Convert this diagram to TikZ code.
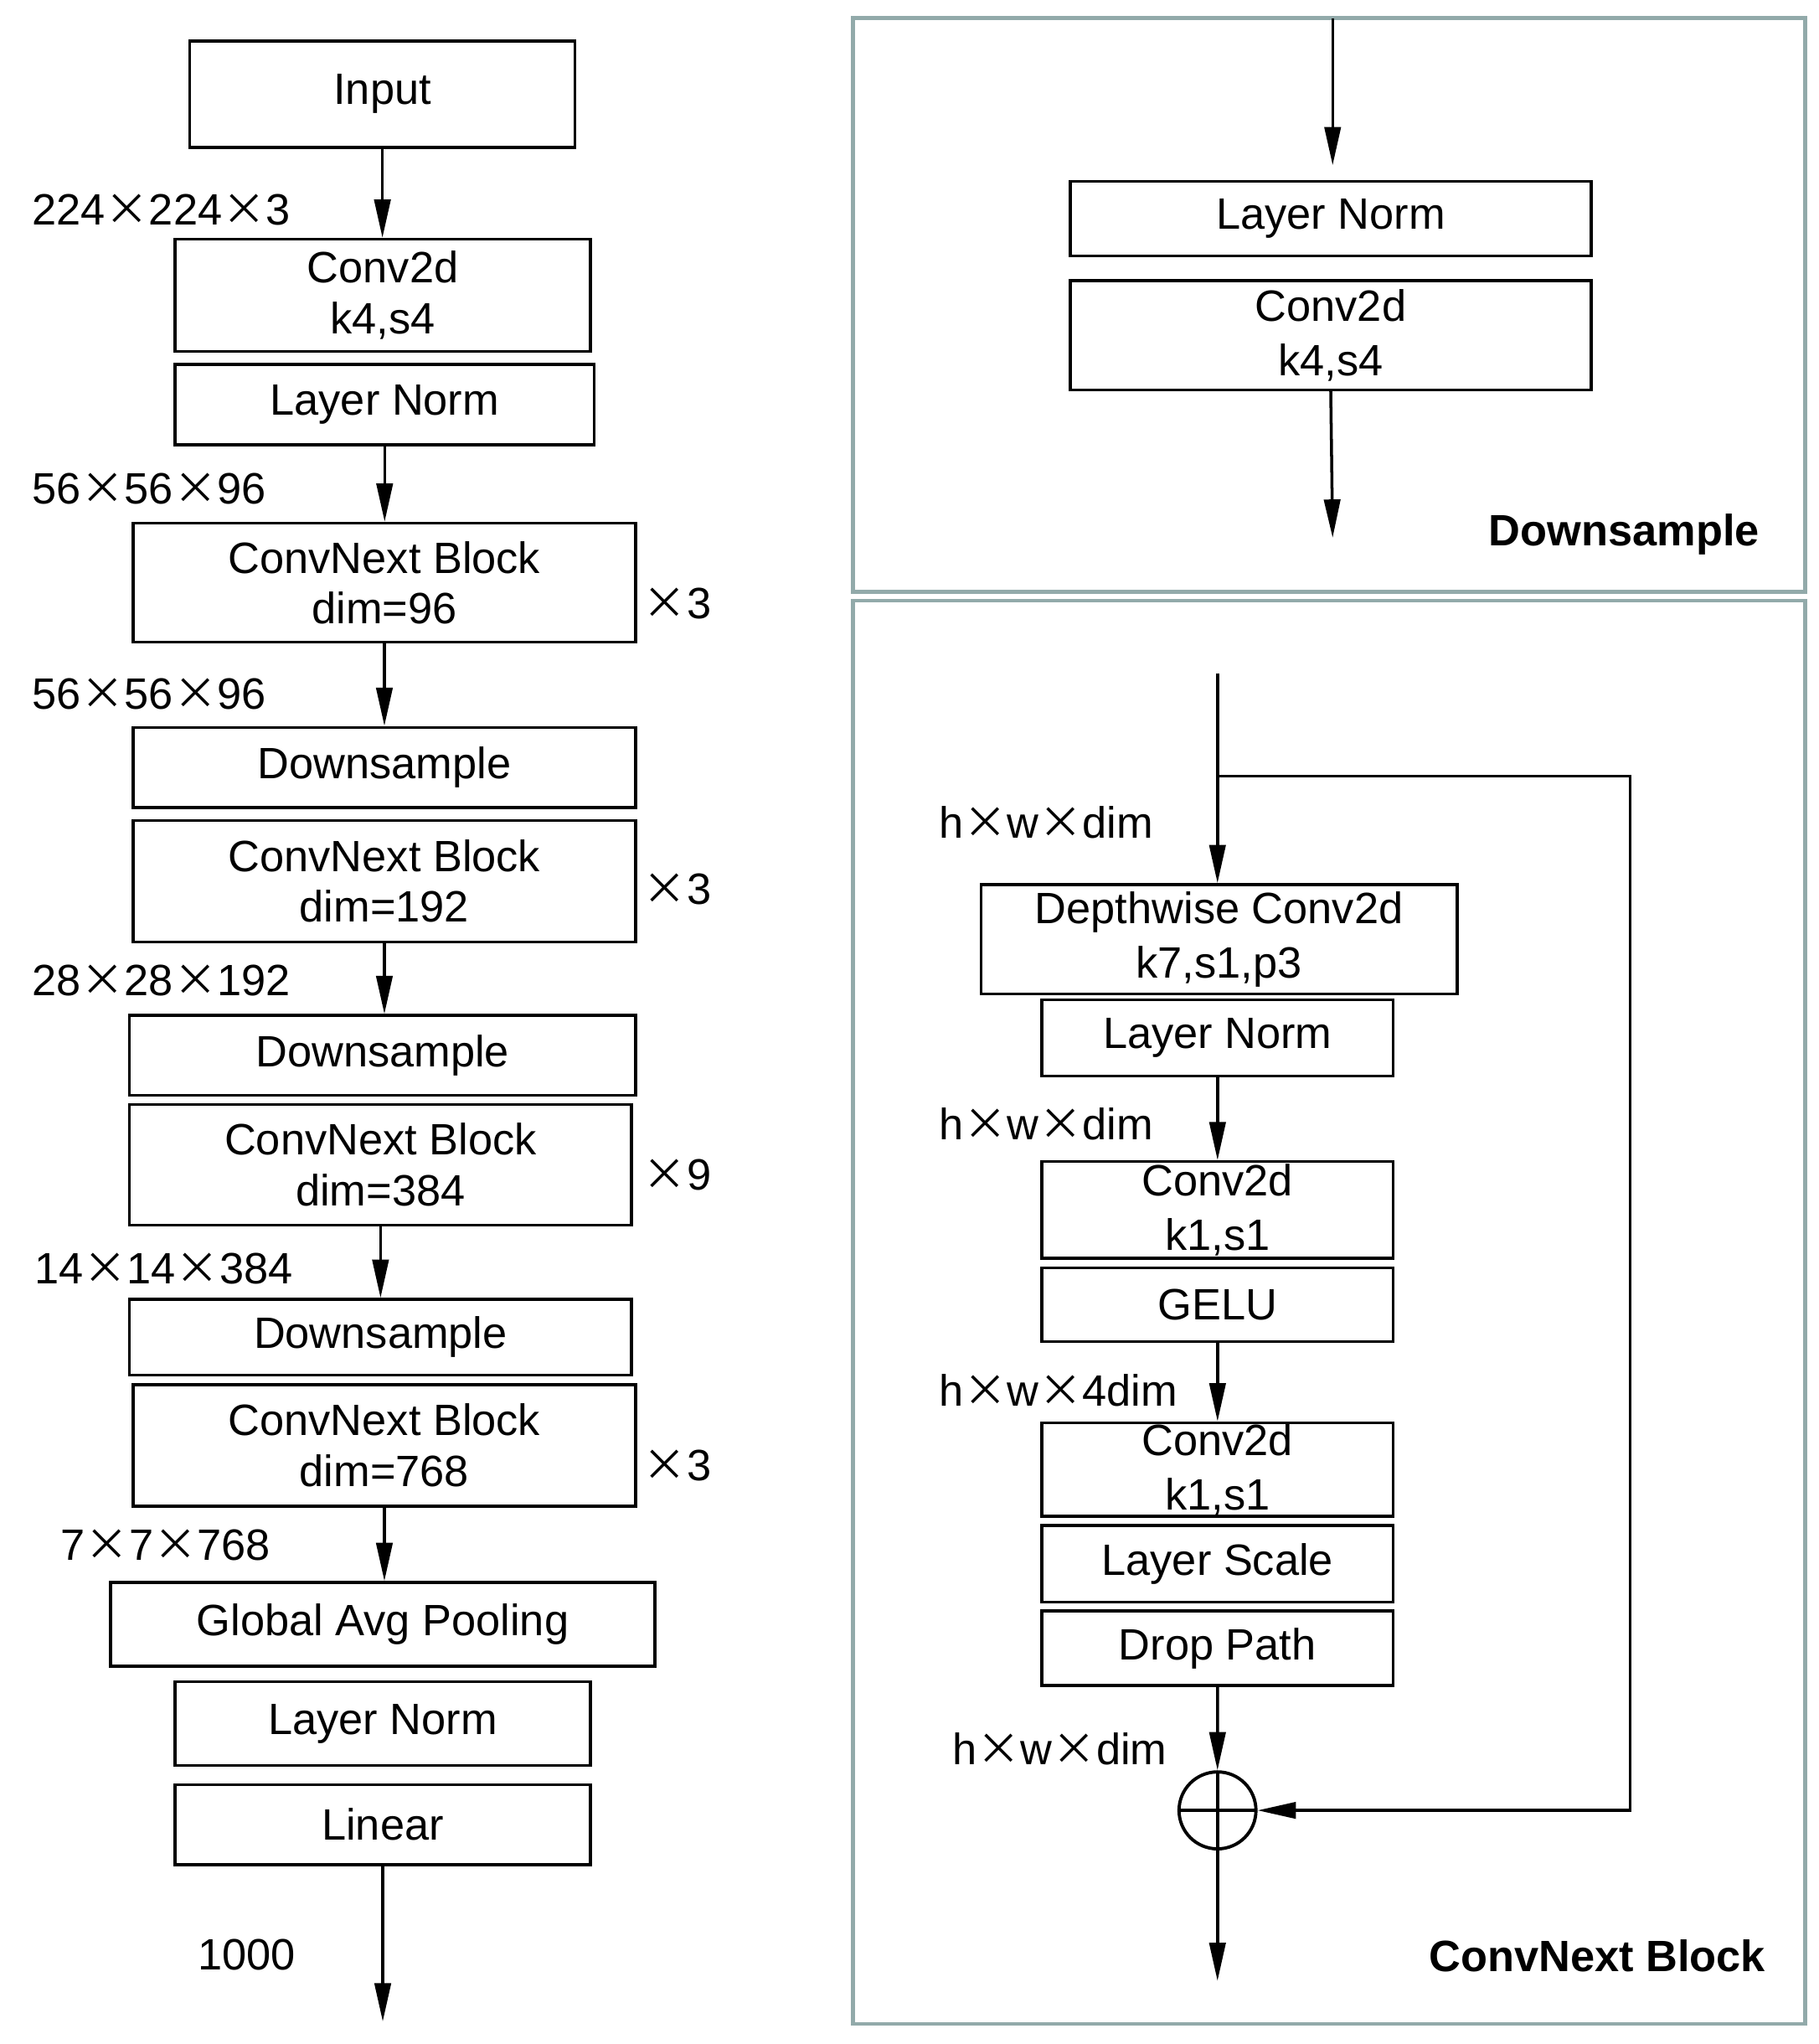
\documentclass[tikz,border=0pt]{standalone}
\usepackage{fontspec}
\setmainfont{Liberation Sans}
\newfontfamily\cjkmul[RawFeature=+fwid]{Noto Sans CJK SC}
\newcommand\mul{{\cjkmul ×}}
\usetikzlibrary{arrows.meta,fit}
\definecolor{panelc}{RGB}{146,170,170}
% box helper: [options]{name}{x1}{y1}{x2}{y2}{text}
\newcommand\bx[7][]{%
  \node[box,#1,minimum width={(#5-#3)*0.015625cm},minimum height={(#6-#4)*0.015625cm}]
    (#2) at ({(#3+#5)/2},{(#4+#6)/2}) {#7};}
\begin{document}
\begin{tikzpicture}[x=0.015625cm,y=-0.015625cm,
  font=\fontsize{14.9}{17.2}\selectfont,
  box/.style={draw, line width=1pt, inner sep=0pt, align=center},
  wide/.style={font=\fontsize{14.9}{18.6}\selectfont},
  panel/.style={draw=panelc, line width=1.3pt, inner sep=0pt},
  arr/.style={line width=1pt, -{Triangle[length=13pt,width=5.5pt]}},
  lbl/.style={anchor=base west, inner sep=0pt},
  ttl/.style={anchor=base east, inner sep=0pt, font=\fontsize{14.9}{17.2}\selectfont\bfseries},
]
\useasboundingbox (0,0) rectangle (1390.08,1561.6);

% ---------------- left column ----------------
\bx{in}{145.1}{31.2}{439.4}{112.6}{Input}
\bx{c1}{133.7}{182.8}{451.3}{268.5}{Conv2d\\k4,s4}
\bx{ln1}{133.7}{278.3}{454.2}{339.7}{Layer Norm}
\bx{cb1}{101.9}{399.7}{485.6}{490.6}{ConvNext Block\\dim=96}
\bx{ds1}{101.9}{555.7}{485.6}{617.1}{Downsample}
\bx{cb2}{101.9}{626.9}{485.6}{719.6}{ConvNext Block\\dim=192}
\bx{ds2}{99}{775.8}{485.6}{836.8}{Downsample}
\bx{cb3}{99}{843.8}{482.6}{935.9}{ConvNext Block\\dim=384}
\bx{ds3}{99}{992.7}{482.6}{1050.5}{Downsample}
\bx{cb4}{101.9}{1057.8}{485.6}{1150.8}{ConvNext Block\\dim=768}
\bx{gap}{84.6}{1209}{500.4}{1272.8}{Global Avg Pooling}
\bx{ln2}{133.7}{1284.9}{451.3}{1348.7}{Layer Norm}
\bx{lin}{133.7}{1363.5}{451.3}{1424.5}{Linear}
\coordinate (out) at (292.5,1544.4);

\draw[arr] (in.south) -- (in.south |- c1.north);
\draw[arr] (ln1.south) -- (ln1.south |- cb1.north);
\draw[arr] (cb1.south) -- (cb1.south |- ds1.north);
\draw[arr] (cb2.south) -- (cb2.south |- ds2.north);
\draw[arr] (cb3.south) -- (cb3.south |- ds3.north);
\draw[arr] (cb4.south) -- (cb4.south |- gap.north);
\draw[arr] (lin.south) -- (out);

\node[lbl] (l1) at (24,171.6) {224\mul224\mul3};
\node[lbl] (l2) at (24,385) {56\mul56\mul96};
\node[lbl] (l3) at (24,541.8) {56\mul56\mul96};
\node[lbl] (l4) at (24,760.8) {28\mul28\mul192};
\node[lbl] (l5) at (25.8,980.5) {14\mul14\mul384};
\node[lbl] (l6) at (46,1192.2) {7\mul7\mul768};
\node[lbl] (l7) at (150.7,1504.8) {1000};
\node[lbl] (r1) at (491,472.6) {\mul3};
\node[lbl] (r2) at (491,691) {\mul3};
\node[lbl] (r3) at (491,909) {\mul9};
\node[lbl] (r4) at (491,1131.5) {\mul3};

% ---------------- Downsample panel ----------------
\node[panel, fit={(652,13.8)(1379.5,452)}] (p1) {};
\coordinate (dtop) at (1018.4,13.8);
\coordinate (dtip) at (1018.4,126.2);
\bx{dln}{817.9}{138.5}{1216}{195.4}{Layer Norm}
\bx[wide]{dcv}{817.9}{214.5}{1216}{297.8}{Conv2d\\k4,s4}
\coordinate (dout) at (1018.4,410.8);
\draw[arr] (dtop) -- (dtip);
\draw[arr] (dcv.south) -- (dout);
\node[ttl] (t1) at (1345,417) {Downsample};

% ---------------- ConvNext Block panel ----------------
\node[panel, fit={(652,459)(1379.5,1546.1)}] (p2) {};
\coordinate (ctop) at (930.4,514.5);
\coordinate (br) at (930.4,592.8);
\coordinate (brr) at (1245.9,592.8);
\bx[wide]{dw}{749.6}{675.8}{1113.6}{759.3}{Depthwise Conv2d\\k7,s1,p3}
\bx{cln}{796.3}{763.8}{1064.6}{822}{Layer Norm}
\bx[wide]{cv1}{796.3}{887.5}{1064.6}{961.3}{Conv2d\\k1,s1}
\bx{gelu}{796.3}{968.7}{1064.6}{1024.8}{GELU}
\bx[wide]{cv2}{796.3}{1087}{1064.6}{1158.4}{Conv2d\\k1,s1}
\bx{ls}{796.3}{1165.3}{1064.6}{1223.9}{Layer Scale}
\bx{dp}{796.3}{1230.8}{1064.6}{1287.7}{Drop Path}
\node[draw, circle, line width=1.1pt, inner sep=0pt, minimum size=0.91875cm,
      path picture={\draw[line width=1pt] (path picture bounding box.north) -- (path picture bounding box.south)
                    (path picture bounding box.west) -- (path picture bounding box.east);}]
      (plus) at (930.4,1383.1) {};
\coordinate (cout) at (930.4,1513.4);

\draw[arr] (ctop) -- (ctop |- dw.north);
\draw[arr] (cln.south) -- (cln.south |- cv1.north);
\draw[arr] (gelu.south) -- (gelu.south |- cv2.north);
\draw[arr] (dp.south) -- (plus.north);
\draw[arr] (plus.south) -- (cout);
\draw[arr] (br) -- (brr) -- (brr |- plus.east) -- (plus.east);

\node[lbl] (h1) at (717,640) {h\mul w\mul dim};
\node[lbl] (h2) at (717,870.8) {h\mul w\mul dim};
\node[lbl] (h3) at (717,1074) {h\mul w\mul 4dim};
\node[lbl] (h4) at (727.5,1348) {h\mul w\mul dim};
\node[ttl] (t2) at (1349.5,1506.5) {ConvNext Block};
\end{tikzpicture}
\end{document}
